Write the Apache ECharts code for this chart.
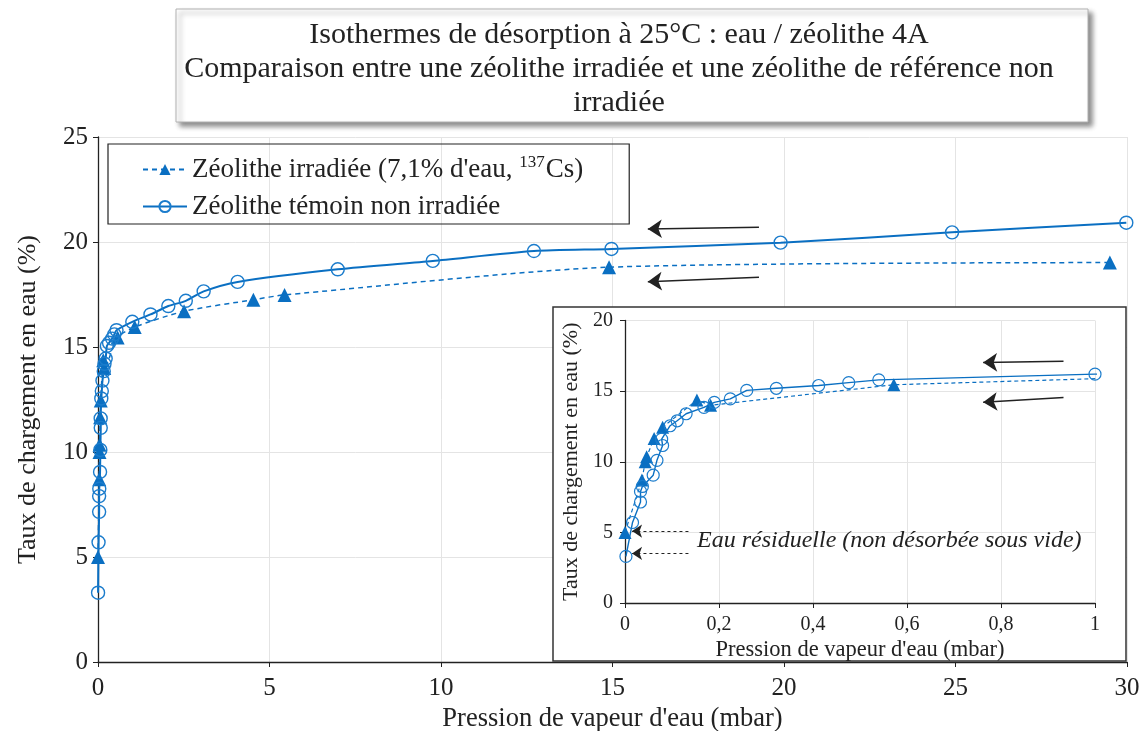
<!DOCTYPE html>
<html><head><meta charset="utf-8">
<script src="https://cdn.jsdelivr.net/npm/echarts@6/dist/echarts.min.js"></script>
<style>html,body{margin:0;padding:0;background:#fff}#c{width:1144px;height:731px}</style>
</head><body><div id="c"></div>
<script>
// ---------- data ----------
const titleLines = [
  "Isothermes de désorption à 25°C : eau / zéolithe 4A",
  "Comparaison entre une zéolithe irradiée et une zéolithe de référence non",
  "irradiée"
];
const irrName = "Zéolithe irradiée (7,1% d'eau, 137Cs)";
const refName = "Zéolithe témoin non irradiée";

// Zéolithe irradiée (triangles, dashed)
const irrX = [0.0, 0.036, 0.043, 0.046, 0.062, 0.080, 0.153, 0.182, 0.572, 1.07, 2.51, 4.53, 5.44, 14.9, 29.5];
const irrY = [5.0, 8.7, 10.0, 10.35, 11.65, 12.45, 14.37, 14.0, 15.45, 15.95, 16.7, 17.25, 17.48, 18.8, 19.02];

// Zéolithe témoin non irradiée (open circles, solid)
const refX = [0.002, 0.016, 0.033, 0.033, 0.037, 0.060, 0.068, 0.080, 0.078, 0.096, 0.111, 0.130, 0.168, 0.190, 0.224, 0.259, 0.322, 0.412, 0.476, 0.540, 1.0, 1.53, 2.05, 2.56, 3.08, 4.07, 6.99, 9.76, 12.71, 14.97, 19.9, 24.9, 29.98];
const refY = [3.3, 5.7, 7.15, 7.9, 8.25, 9.05, 10.1, 11.15, 11.6, 12.55, 12.9, 13.4, 13.85, 14.2, 14.45, 15.05, 15.2, 15.4, 15.6, 15.8, 16.2, 16.55, 16.95, 17.2, 17.65, 18.1, 18.7, 19.1, 19.57, 19.67, 19.97, 20.46, 20.92];

// tick labels
const mainXTicks = [0, 5, 10, 15, 20, 25, 30];
const mainYTicks = [0, 5, 10, 15, 20, 25];
const insetXTicks = [0, 0.2, 0.4, 0.6, 0.8, 1];
const insetYTicks = [0, 5, 10, 15, 20];

// annotation arrows (data coordinates: [start, head])
const mainArrows = [[[19.27, 20.7], [16.03, 20.62]], [[19.27, 18.32], [16.03, 18.11]]];
const insetArrows = [[[0.933, 17.11], [0.762, 17.02]], [[0.933, 14.55], [0.762, 14.21]]];
const residualArrows = [[[0.135, 5.09], [0.015, 5.09]], [[0.135, 3.51], [0.015, 3.51]]];
const residualText = "Eau résiduelle (non désorbée sous vide)";

// ---------- chart ----------
const FONT = "'Liberation Serif', 'Times New Roman', serif";
const BLUE = '#0a6fc2';
const TXT = '#222';
const zip = (xs, ys) => xs.map((x, i) => [x, ys[i]]);
const irrData = zip(irrX, irrY);
const refData = zip(refX, refY);
const step = a => a[1] - a[0];
const comma = v => String(+v.toFixed(2)).replace('.', ',');

function arrowLines(arr, dashed) {
  return {
    silent: true, animation: false,
    symbol: ['none', 'arrow'], symbolSize: dashed ? 10 : 14,
    label: { show: false },
    lineStyle: { color: '#222', width: dashed ? 1 : 1.5, type: dashed ? [3, 3] : 'solid' },
    emphasis: { disabled: true },
    data: arr.map(a => [{ coord: a[0] }, { coord: a[1] }])
  };
}

function axisCommon(fs, margin) {
  return {
    type: 'value',
    axisLine: { show: true, onZero: false, lineStyle: { color: TXT, width: 1.3 } },
    axisTick: { show: true, length: 5, lineStyle: { color: TXT, width: 1 } },
    axisLabel: { fontFamily: FONT, fontSize: fs, color: TXT, margin: margin },
    splitLine: { show: true, lineStyle: { color: '#e4e4e4', width: 1 } },
    nameLocation: 'middle'
  };
}

const option = {
  animation: false,
  backgroundColor: '#fff',
  grid: [
    { left: 98, right: 17, top: 137, bottom: 69, containLabel: false, outerBoundsMode: 'none' },
    { left: 625, right: 49, top: 320.5, bottom: 128, containLabel: false, outerBoundsMode: 'none' }
  ],
  legend: {
    left: 108, top: 144, orient: 'vertical',
    data: [irrName, refName],
    borderColor: '#222', borderWidth: 1.2, borderRadius: 0,
    padding: [10, 46, 4, 34],
    itemWidth: 44, itemHeight: 14, itemGap: 10,
    selectedMode: false,
    textStyle: {
      fontFamily: FONT, fontSize: 27, color: TXT,
      rich: {
        a: { fontFamily: FONT, fontSize: 27, color: TXT, lineHeight: 31 },
        s: { fontFamily: FONT, fontSize: 17, color: TXT, verticalAlign: 'top', lineHeight: 31, padding: [0, 1, 0, 0] }
      }
    },
    formatter: function (name) {
      if (name === irrName) return "{a|Zéolithe irradiée (7,1% d'eau, }{s|137}{a|Cs)}";
      return '{a|' + name + '}';
    }
  },
  xAxis: [
    Object.assign(axisCommon(25, 14), {
      gridIndex: 0, min: mainXTicks[0], max: mainXTicks[mainXTicks.length - 1], interval: step(mainXTicks),
      name: "Pression de vapeur d'eau (mbar)", nameGap: 44,
      nameTextStyle: { fontFamily: FONT, fontSize: 26.5, color: TXT }
    }),
    Object.assign(axisCommon(20, 12), {
      gridIndex: 1, z: 3, min: insetXTicks[0], max: insetXTicks[insetXTicks.length - 1], interval: 0.2,
      axisLabel: { fontFamily: FONT, fontSize: 20, color: TXT, margin: 12, formatter: comma },
      name: "Pression de vapeur d'eau (mbar)", nameGap: 36,
      nameTextStyle: { fontFamily: FONT, fontSize: 22.5, color: TXT }
    })
  ],
  yAxis: [
    Object.assign(axisCommon(25, 10), {
      gridIndex: 0, min: mainYTicks[0], max: mainYTicks[mainYTicks.length - 1], interval: step(mainYTicks),
      name: 'Taux de chargement en eau (%)', nameGap: 57,
      nameTextStyle: { fontFamily: FONT, fontSize: 26, color: TXT }
    }),
    Object.assign(axisCommon(20, 12), {
      gridIndex: 1, z: 3, min: insetYTicks[0], max: insetYTicks[insetYTicks.length - 1], interval: step(insetYTicks),
      name: 'Taux de chargement en eau (%)', nameGap: 43,
      nameTextStyle: { fontFamily: FONT, fontSize: 22, color: TXT }
    })
  ],
  graphic: [
    {
      type: 'rect', z: 1,
      shape: { x: 176, y: 9, width: 912, height: 113 },
      style: { fill: '#fff', stroke: '#b0b0b0', lineWidth: 1, shadowBlur: 5, shadowOffsetX: 4, shadowOffsetY: 4, shadowColor: 'rgba(0,0,0,0.45)' }
    },
    {
      type: 'text', z: 2, x: 619, y: 18,
      style: { text: titleLines.join('\n'), font: '30px ' + FONT, fill: TXT, align: 'center', verticalAlign: 'top', lineHeight: 34 }
    },
    {
      type: 'rect', z: 1,
      shape: { x: 553, y: 307, width: 573, height: 354 },
      style: { fill: '#fff', stroke: '#333', lineWidth: 1.5 }
    },
    {
      type: 'text', z: 4, x: 697, y: 541,
      style: { text: residualText, font: 'italic 24px ' + FONT, fill: TXT, align: 'left', verticalAlign: 'middle' }
    }
  ],
  series: [
    {
      name: irrName, type: 'line', xAxisIndex: 0, yAxisIndex: 0, data: irrData,
      smooth: 0.25, symbol: 'triangle', symbolSize: 14,
      itemStyle: { color: BLUE },
      lineStyle: { color: BLUE, width: 1.5, type: [5, 4] },
      emphasis: { disabled: true },
      markLine: arrowLines(mainArrows, false)
    },
    {
      name: refName, type: 'line', xAxisIndex: 0, yAxisIndex: 0, data: refData,
      smooth: 0.25, symbol: 'circle', symbolSize: 13,
      itemStyle: { color: 'rgba(255,255,255,0)', borderColor: '#1b7ccc', borderWidth: 1.4 },
      lineStyle: { color: BLUE, width: 2 },
      emphasis: { disabled: true }
    },
    {
      name: irrName, type: 'line', xAxisIndex: 1, yAxisIndex: 1, data: irrData, z: 5,
      symbol: 'triangle', symbolSize: 13,
      itemStyle: { color: BLUE },
      lineStyle: { color: BLUE, width: 1.2, type: [4, 3] },
      emphasis: { disabled: true },
      markLine: arrowLines(insetArrows, false)
    },
    {
      name: refName, type: 'line', xAxisIndex: 1, yAxisIndex: 1, data: refData, z: 5,
      symbol: 'circle', symbolSize: 12,
      itemStyle: { color: 'rgba(255,255,255,0)', borderColor: '#1b7ccc', borderWidth: 1.2 },
      lineStyle: { color: BLUE, width: 1.4 },
      emphasis: { disabled: true },
      markLine: arrowLines(residualArrows, true)
    }
  ]
};

const chart = echarts.init(document.getElementById('c'), null, { renderer: 'canvas' });
chart.setOption(option);
</script>
</body></html>
